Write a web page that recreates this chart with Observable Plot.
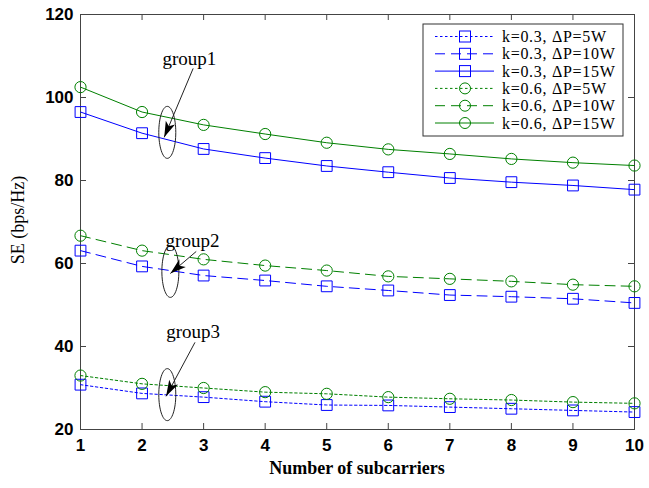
<!DOCTYPE html>
<html>
<head>
<meta charset="utf-8">
<script src="https://cdn.jsdelivr.net/npm/d3@7"></script>
<script src="https://cdn.jsdelivr.net/npm/@observablehq/plot@0.6"></script>
<style>
  body { margin: 0; background: #fff; }
  #chart { position: relative; width: 649px; height: 488px; }
</style>
</head>
<body>
<div id="chart"></div>
<script>
// ---- data ----
const subcarriers = [1, 2, 3, 4, 5, 6, 7, 8, 9, 10];
const k03_5W  = [30.8, 28.7, 27.8, 26.7, 25.9, 25.8, 25.4, 25.0, 24.6, 24.2];
const k03_10W = [63.1, 59.3, 57.1, 55.9, 54.5, 53.5, 52.4, 52.0, 51.5, 50.5];
const k03_15W = [96.5, 91.4, 87.6, 85.4, 83.5, 82.0, 80.6, 79.6, 78.8, 77.8];
const k06_5W  = [33.0, 31.0, 30.0, 29.0, 28.6, 27.8, 27.4, 27.1, 26.6, 26.3];
const k06_10W = [66.7, 63.1, 61.0, 59.5, 58.3, 56.9, 56.3, 55.7, 54.9, 54.5];
const k06_15W = [102.5, 96.5, 93.4, 91.2, 89.1, 87.5, 86.4, 85.2, 84.3, 83.6];
const seriesNames = ["k=0.3, \u0394P=5W", "k=0.3, \u0394P=10W", "k=0.3, \u0394P=15W",
                     "k=0.6, \u0394P=5W", "k=0.6, \u0394P=10W", "k=0.6, \u0394P=15W"];
const seriesValues = [k03_5W, k03_10W, k03_15W, k06_5W, k06_10W, k06_15W];
const xTicks = [1, 2, 3, 4, 5, 6, 7, 8, 9, 10];
const yTicks = [20, 40, 60, 80, 100, 120];

// annotations (data coordinates)
const groupLabels = ["group1", "group2", "group3"];
const labelX = [2.77, 2.82, 2.83];
const labelY = [109.4, 65.5, 43.6];
const arrowX1 = [2.83, 2.88, 2.86];
const arrowY1 = [107.0, 62.9, 41.0];
const arrowX2 = [2.36, 2.46, 2.39];
const arrowY2 = [90.4, 57.6, 28.0];
const ellipseX = [2.41, 2.46, 2.41];
const ellipseY = [91.6, 58.1, 28.4];

// ---- styles ----
const colorOf = name => name.startsWith("k=0.3") ? "#0000ff" : "#008000";
const dashOf = name => name.endsWith("=5W") ? "2.5,2.5" : name.endsWith("=10W") ? "10,6" : null;
const symbolOf = name => name.startsWith("k=0.3") ? "square" : "circle";

const rows = seriesNames.flatMap((name, i) =>
  subcarriers.map((x, j) => ({series: name, x, y: seriesValues[i][j]})));

const W = 649, H = 488;
const mL = 80, mR = 15, mT = 14, mB = 59;
const frameW = W - mL - mR, frameH = H - mT - mB;

const xs = Plot.scale({x: {domain: [1, 10], range: [mL, W - mR]}});
const ys = Plot.scale({y: {domain: [20, 120], range: [H - mB, mT]}});

const annotations = groupLabels.map((g, i) => {
  const dx = xs.apply(arrowX2[i]) - xs.apply(arrowX1[i]);
  const dy = ys.apply(arrowY2[i]) - ys.apply(arrowY1[i]);
  return {
    label: g, lx: labelX[i], ly: labelY[i],
    x1: arrowX1[i], y1: arrowY1[i], x2: arrowX2[i], y2: arrowY2[i],
    ex: ellipseX[i], ey: ellipseY[i],
    angle: Math.atan2(dx, -dy) * 180 / Math.PI
  };
});

// custom symbols
const ellipseSymbol = {
  draw(ctx) {
    const rx = 8.5, ry = 26, k = 0.5523;
    ctx.moveTo(0, -ry);
    ctx.bezierCurveTo(rx * k, -ry, rx, -ry * k, rx, 0);
    ctx.bezierCurveTo(rx, ry * k, rx * k, ry, 0, ry);
    ctx.bezierCurveTo(-rx * k, ry, -rx, ry * k, -rx, 0);
    ctx.bezierCurveTo(-rx, -ry * k, -rx * k, -ry, 0, -ry);
    ctx.closePath();
  }
};
const headSymbol = {
  draw(ctx) {
    // tip at origin, pointing up
    ctx.moveTo(0, 0);
    ctx.lineTo(-5, 16);
    ctx.lineTo(0, 12);
    ctx.lineTo(5, 16);
    ctx.closePath();
  }
};

const tickFont = "Liberation Sans, Arial, sans-serif";
const serif = "Liberation Serif, Times New Roman, serif";

const marks = [
  Plot.frame({stroke: "#444", strokeWidth: 1}),
  // inward ticks on all four sides
  Plot.tickX(xTicks, {x: d => d, insetTop: frameH - 6, stroke: "#444"}),
  Plot.tickX(xTicks, {x: d => d, insetBottom: frameH - 6, stroke: "#444"}),
  Plot.tickY(yTicks, {y: d => d, insetRight: frameW - 6, stroke: "#444"}),
  Plot.tickY(yTicks, {y: d => d, insetLeft: frameW - 6, stroke: "#444"}),
  Plot.axisX({ticks: xTicks, tickSize: 0, tickPadding: 9, fontSize: 17, fontWeight: "bold", fontFamily: tickFont,
              label: null}),
  Plot.axisY({ticks: yTicks, tickSize: 0, tickPadding: 7, fontSize: 17, fontWeight: "bold", fontFamily: tickFont,
              label: null}),
];

seriesNames.forEach(name => {
  const data = rows.filter(r => r.series === name);
  marks.push(Plot.line(data, {x: "x", y: "y", stroke: colorOf(name), strokeWidth: 1,
                              strokeDasharray: dashOf(name)}));
  marks.push(Plot.dot(data, {x: "x", y: "y", stroke: colorOf(name), fill: "none", strokeWidth: 1,
                             symbol: symbolOf(name), r: symbolOf(name) === "square" ? 6.1 : 5.6}));
});

marks.push(
  Plot.dot(annotations, {x: "ex", y: "ey", symbol: ellipseSymbol, stroke: "#222", fill: "none", strokeWidth: 1}),
  Plot.link(annotations, {x1: "x1", y1: "y1", x2: "x2", y2: "y2", stroke: "#222", strokeWidth: 1}),
  Plot.dot(annotations, {x: "x2", y: "y2", symbol: headSymbol, fill: "#000", stroke: "none", rotate: "angle"}),
  Plot.text(annotations, {x: "lx", y: "ly", text: "label", fontSize: 19, fontFamily: serif, fill: "#000"})
);

const chart = Plot.plot({
  width: W, height: H,
  marginLeft: mL, marginRight: mR, marginTop: mT, marginBottom: mB,
  x: {domain: [1, 10]},
  y: {domain: [20, 120]},
  style: {background: "#fff", color: "#000"},
  marks
});
document.getElementById("chart").appendChild(chart);

// axis titles and legend drawn into the same svg
const svg = d3.select(chart);
svg.append("text")
  .attr("x", 357).attr("y", 474)
  .attr("text-anchor", "middle")
  .attr("font-family", serif).attr("font-weight", "bold").attr("font-size", 18)
  .text("Number of subcarriers");
svg.append("text")
  .attr("transform", "translate(24,220) rotate(-90)")
  .attr("text-anchor", "middle")
  .attr("font-family", serif).attr("font-size", 18)
  .text("SE (bps/Hz)");

const lg = svg.append("g").attr("transform", "translate(423,24)");
lg.append("rect").attr("width", 200).attr("height", 112).attr("fill", "#fff").attr("stroke", "#333");
seriesNames.forEach((name, i) => {
  const y = 12.5 + i * 17.3;
  const g = lg.append("g").attr("transform", `translate(0,${y})`);
  g.append("line").attr("x1", 12).attr("x2", 71).attr("y1", 0).attr("y2", 0)
    .attr("stroke", colorOf(name)).attr("stroke-dasharray", dashOf(name));
  if (symbolOf(name) === "square")
    g.append("rect").attr("x", 36.5).attr("y", -5.5).attr("width", 11).attr("height", 11)
      .attr("fill", "none").attr("stroke", colorOf(name));
  else
    g.append("circle").attr("cx", 42).attr("cy", 0).attr("r", 5.5)
      .attr("fill", "none").attr("stroke", colorOf(name));
  g.append("text").attr("x", 79).attr("y", 5.5).attr("text-anchor", "start")
    .attr("font-family", serif).attr("font-size", 16).attr("letter-spacing", 0.7)
    .text(name);
});
</script>
</body>
</html>
